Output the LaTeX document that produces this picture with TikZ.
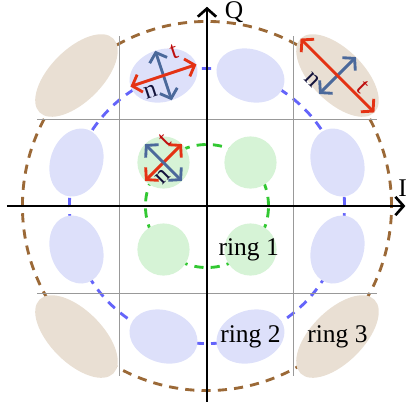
\documentclass[tikz,border=0pt]{standalone}
\usepackage{fontspec}
\setmainfont{Liberation Serif}
\usetikzlibrary{arrows.meta}
\definecolor{bfill}{RGB}{221,224,250}
\definecolor{gfill}{RGB}{214,243,214}
\definecolor{brfill}{RGB}{233,223,211}
\definecolor{bring}{RGB}{100,100,250}
\definecolor{gring}{RGB}{50,200,50}
\definecolor{brring}{RGB}{155,105,55}
\definecolor{tcol}{RGB}{228,50,20}
\definecolor{tlabc}{RGB}{190,15,15}
\definecolor{ncol}{RGB}{75,105,155}
\definecolor{nlabc}{RGB}{20,20,60}
\tikzset{
  tipx/.tip={Straight Barb[length=4pt,width=9pt]},
  ringline/.style={line width=1.4pt, dash pattern=on 4.5pt off 3.5pt},
  gridline/.style={draw=black!40, line width=0.5pt},
  axisline/.style={-tipx, line width=1.3pt},
  tarrow/.style={tipx-tipx, draw=tcol, line width=1.4pt},
  narrow/.style={tipx-tipx, draw=ncol, line width=1.4pt},
  tlab/.style={text=tlabc, transform shape, inner sep=0pt},
  nlab/.style={text=nlabc, transform shape, inner sep=0pt},
  lab/.style={inner sep=0pt}
}
\begin{document}
\begin{tikzpicture}[x=1.5cm,y=1.5cm,font=\fontsize{12.5}{15}\selectfont]
\useasboundingbox (-2.379,-2.356) rectangle (2.287,2.368);
% rings
\draw[ringline, draw=gring] (0,0) circle (0.7071);
\draw[ringline, draw=bring] (0,0) circle (1.5811);
\draw[ringline, draw=brring] (0,0) circle (2.1213);
% grid
\draw[gridline] (-1,-1.95) -- (-1,1.95);
\draw[gridline] (1,-1.95) -- (1,1.95);
\draw[gridline] (-1.95,-1) -- (1.95,-1);
\draw[gridline] (-1.95,1) -- (1.95,1);
% ring 1 points
\foreach \x/\y in {0.5/0.5,-0.5/0.5,-0.5/-0.5,0.5/-0.5}
  \fill[gfill] (\x,\y) circle (0.3);
% ring 2 points
\foreach \x/\y in {1.5/0.5,0.5/1.5,-0.5/1.5,-1.5/0.5,-1.5/-0.5,-0.5/-1.5,0.5/-1.5,1.5/-0.5}{
  \pgfmathsetmacro\rot{atan2(\y,\x)-90}
  \fill[bfill, rotate around={\rot:(\x,\y)}] (\x,\y) ellipse [x radius=0.4, y radius=0.3];
}
% ring 3 points
\foreach \x/\y in {1.5/1.5,-1.5/1.5,-1.5/-1.5,1.5/-1.5}{
  \pgfmathsetmacro\rot{atan2(\y,\x)-90}
  \fill[brfill, rotate around={\rot:(\x,\y)}] (\x,\y) ellipse [x radius=0.6, y radius=0.3];
}
% axes
\coordinate (xs) at (-2.3,0); \coordinate (xe) at (2.28,0);
\coordinate (ys) at (0,-2.25); \coordinate (ye) at (0,2.29);
\draw[axisline] (xs) -- (xe);
\draw[axisline] (ys) -- (ye);
\node[lab] (lI) at (2.25,0.2) {I};
\node[lab] (lQ) at (0.31,2.23) {Q};
% t/n on green point
\begin{scope}[shift={(-0.5,0.5)}, rotate=45]
  \coordinate (gn1) at (0,-0.3); \coordinate (gn2) at (0,0.3);
  \coordinate (gt1) at (-0.3,0); \coordinate (gt2) at (0.3,0);
  \draw[tarrow] (gt1) -- (gt2);
  \draw[narrow] (gn1) -- (gn2);
  \node[tlab] (gtl) at (0.2,0.17) {t};
  \node[nlab] (gnl) at (-0.12,-0.11) {n};
\end{scope}
% t/n on blue point
\begin{scope}[shift={(-0.5,1.5)}, rotate=18.435]
  \coordinate (bn1) at (0,-0.3); \coordinate (bn2) at (0,0.3);
  \coordinate (bt1) at (-0.4,0); \coordinate (bt2) at (0.4,0);
  \draw[narrow] (bn1) -- (bn2);
  \draw[tarrow] (bt1) -- (bt2);
  \node[tlab] (btl) at (0.2,0.22) {t};
  \node[nlab] (bnl) at (-0.2,-0.13) {n};
\end{scope}
% t/n on brown point
\begin{scope}[shift={(1.5,1.5)}, rotate=-45]
  \coordinate (rn1) at (0,-0.3); \coordinate (rn2) at (0,0.3);
  \coordinate (rt1) at (-0.6,0); \coordinate (rt2) at (0.6,0);
  \draw[narrow] (rn1) -- (rn2);
  \draw[tarrow] (rt1) -- (rt2);
  \node[tlab] (rtl) at (0.3,0.11) {t};
  \node[nlab] (rnl) at (-0.165,-0.24) {n};
\end{scope}
% ring labels
\node[lab] (r1) at (0.48,-0.5) {ring 1};
\node[lab] (r2) at (0.5,-1.5) {ring 2};
\node[lab] (r3) at (1.5,-1.5) {ring 3};
\end{tikzpicture}
\end{document}
